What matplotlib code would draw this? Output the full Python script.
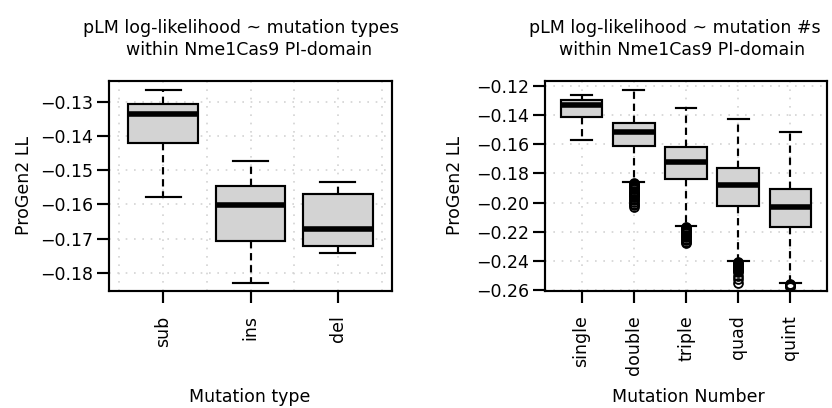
import matplotlib
matplotlib.use("Agg")
import matplotlib.pyplot as plt

# ---- data -------------------------------------------------------------
type_labels = ["sub", "ins", "del"]
type_whishi = [-0.1264, -0.1472, -0.1534]
type_q3 = [-0.1305, -0.1545, -0.1568]
type_median = [-0.1336, -0.1603, -0.1672]
type_q1 = [-0.1419, -0.1706, -0.1722]
type_whislo = [-0.1578, -0.1830, -0.1742]

num_labels = ["single", "double", "triple", "quad", "quint"]
num_whishi = [-0.1262, -0.1225, -0.1349, -0.1424, -0.1518]
num_q3 = [-0.1296, -0.1452, -0.1621, -0.1763, -0.1905]
num_median = [-0.1330, -0.1518, -0.1724, -0.1877, -0.2033]
num_q1 = [-0.1413, -0.1614, -0.1838, -0.2024, -0.2166]
num_whislo = [-0.1573, -0.1861, -0.2159, -0.2401, -0.2554]

outliers_single = []
outliers_double = [-0.1868, -0.1875, -0.1882, -0.1889, -0.1896, -0.1903,
                   -0.1910, -0.1918, -0.1925, -0.1932, -0.1940, -0.1948,
                   -0.1956, -0.1965, -0.1974, -0.1984, -0.1995, -0.2008,
                   -0.2020, -0.2032]
outliers_triple = [-0.2165, -0.2172, -0.2180, -0.2188, -0.2196, -0.2204,
                   -0.2212, -0.2220, -0.2229, -0.2238, -0.2248, -0.2259,
                   -0.2268, -0.2278]
outliers_quad = [-0.2408, -0.2414, -0.2420, -0.2426, -0.2433, -0.2440,
                 -0.2447, -0.2455, -0.2463, -0.2472, -0.2480, -0.2503,
                 -0.2527, -0.2550]
outliers_quint = [-0.2560, -0.2564, -0.2568, -0.2573, -0.2578]
num_outliers = [outliers_single, outliers_double, outliers_triple,
                outliers_quad, outliers_quint]

type_yticks = [-0.13, -0.14, -0.15, -0.16, -0.17, -0.18]
num_yticks = [-0.12, -0.14, -0.16, -0.18, -0.20, -0.22, -0.24, -0.26]

# ---- styling ----------------------------------------------------------
plt.rcParams["font.family"] = ["DejaVu Sans"]
FS = 12.5
BOX_FILL = "#D3D3D3"
GRID_COL = "#D3D3D3"
LW = 1.55

W, H = 832, 408
fig = plt.figure(figsize=(W / 100, H / 100), dpi=100)


def px_axes(x0, x1, ytop, ybot):
    return fig.add_axes([x0 / W, 1 - ybot / H, (x1 - x0) / W, (ybot - ytop) / H])


def draw_panel(ax, labels, whishi, q3, med, q1, whislo, fliers, yticks,
               xlim, ylim, xgrid):
    stats = []
    for i in range(len(labels)):
        stats.append(dict(med=med[i], q1=q1[i], q3=q3[i],
                          whislo=whislo[i], whishi=whishi[i],
                          fliers=fliers[i], label=labels[i]))
    pos = list(range(1, len(labels) + 1))

    # dotted background grid
    for x in xgrid:
        ax.axvline(x, color=GRID_COL, lw=1.2, ls=(0, (1, 4)), zorder=0)
    for y in yticks:
        ax.axhline(y, color=GRID_COL, lw=1.2, ls=(0, (1, 4)), zorder=0)

    ax.bxp(stats, positions=pos, widths=0.8, capwidths=0.4,
           patch_artist=True, showfliers=True,
           boxprops=dict(facecolor=BOX_FILL, edgecolor="black", linewidth=LW),
           medianprops=dict(color="black", linewidth=4.0, solid_capstyle="butt"),
           whiskerprops=dict(color="black", linewidth=LW,
                             linestyle=(0, (3.4, 2.2))),
           capprops=dict(color="black", linewidth=LW),
           flierprops=dict(marker="o", markerfacecolor="none",
                           markeredgecolor="black", markersize=6.4,
                           markeredgewidth=1.3, linestyle="none"))

    ax.set_xlim(*xlim)
    ax.set_ylim(*ylim)
    ax.set_xticks(pos)
    ax.set_xticklabels(labels, rotation=90, fontsize=FS, va="top")
    ax.set_yticks(yticks)
    ax.set_yticklabels([f"{v:.2f}".replace("-", "\u2212") for v in yticks],
                       fontsize=FS)
    ax.tick_params(axis="both", direction="out", length=8.6, width=LW,
                   color="black")
    ax.tick_params(axis="x", pad=9.0)
    ax.tick_params(axis="y", pad=2.8)
    for s in ax.spines.values():
        s.set_linewidth(LW)
    ax.set_facecolor("white")


ax1 = px_axes(109, 392, 81, 291)
draw_panel(ax1, type_labels, type_whishi, type_q3, type_median, type_q1,
           type_whislo, [[], [], []], type_yticks,
           (0.38, 3.62), (-0.1853, -0.1239),
           [0.5, 1.0, 1.5, 2.0, 2.5, 3.0, 3.5])

ax2 = px_axes(545, 827, 81, 291)
draw_panel(ax2, num_labels, num_whishi, num_q3, num_median, num_q1,
           num_whislo, num_outliers, num_yticks,
           (0.3, 5.7), (-0.2607, -0.1166),
           [1, 2, 3, 4, 5])

# titles (two centred lines each)
fig.text(241 / W, 1 - 33 / H, "pLM log-likelihood ~ mutation types",
         ha="center", va="baseline", fontsize=FS)
fig.text(249 / W, 1 - 54.7 / H, "within Nme1Cas9 PI-domain",
         ha="center", va="baseline", fontsize=FS)
fig.text(675 / W, 1 - 33 / H, "pLM log-likelihood ~ mutation #s",
         ha="center", va="baseline", fontsize=FS)
fig.text(682.5 / W, 1 - 54.7 / H, "within Nme1Cas9 PI-domain",
         ha="center", va="baseline", fontsize=FS)

# axis titles
fig.text(250 / W, 1 - 402 / H, "Mutation type", ha="center",
         va="baseline", fontsize=FS)
fig.text(688 / W, 1 - 402 / H, "Mutation Number", ha="center",
         va="baseline", fontsize=FS)
fig.text(24 / W, 1 - 186 / H, "ProGen2 LL", rotation=90, ha="center",
         va="center", fontsize=FS)
fig.text(455 / W, 1 - 186 / H, "ProGen2 LL", rotation=90, ha="center",
         va="center", fontsize=FS)

fig.savefig("out.png", dpi=100, facecolor="white")
